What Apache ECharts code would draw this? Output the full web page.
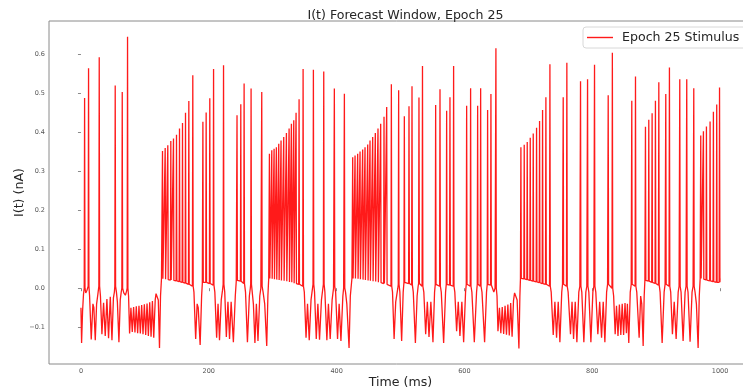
<!DOCTYPE html>
<html><head><meta charset="utf-8">
<script src="https://cdn.jsdelivr.net/npm/echarts@6/dist/echarts.min.js"></script>
<style>html,body{margin:0;padding:0;background:#fff}#c{width:743px;height:391px}</style>
</head><body><div id="c"></div>
<script>
// ---- data: spikes as [time ms, peak nA, foot nA] ----
const spikes1 = [[5.7,0.487,0.0],[11.9,0.563,0.005],[28.6,0.591,0.005],[53.6,0.519,0.005],[64.6,0.502,0.0],[72.9,0.644,0.0]];
const burst1 = [[127.6,0.351,0.024],[131.8,0.359,0.023],[135.9,0.366,0.022],[140.6,0.377,0.021],[144.8,0.383,0.02],[149.5,0.393,0.019],[154.2,0.409,0.017],[158.9,0.423,0.015],[163.6,0.449,0.013],[168.8,0.479,0.01],[175.0,0.545,0.005]];
const spikes2 = [[190.8,0.426,0.015],[195.9,0.45,0.015],[201.6,0.486,0.012],[207.5,0.561,0.008],[223.1,0.571,0.01],[244.2,0.443,0.02],[250.1,0.471,0.018],[255.3,0.524,0.012],[266.2,0.511,0.01],[282.9,0.502,0.005]];
const burst2 = [[294.9,0.344,0.025],[298.6,0.353,0.024],[302.2,0.357,0.023],[305.8,0.361,0.022],[309.5,0.37,0.021],[313.1,0.378,0.02],[317.3,0.387,0.019],[321.5,0.397,0.018],[325.7,0.409,0.016],[329.3,0.421,0.015],[333.0,0.43,0.013],[336.6,0.449,0.012],[341.3,0.484,0.01],[347.6,0.561,0.005]];
const spikes3 = [[363.7,0.559,0.01],[379.9,0.555,0.01],[396.5,0.511,0.005],[412.2,0.498,0.0]];
const burst3 = [[425.2,0.335,0.025],[428.9,0.34,0.025],[433.0,0.344,0.024],[436.7,0.35,0.023],[440.8,0.355,0.022],[444.5,0.361,0.021],[448.7,0.368,0.02],[452.3,0.378,0.019],[456.5,0.387,0.018],[460.6,0.397,0.017],[464.8,0.409,0.015],[469.0,0.421,0.014],[474.2,0.439,0.012],[478.4,0.464,0.01],[485.7,0.522,0.005]];
const spikes4 = [[497.1,0.507,0.01],[506.0,0.44,0.015],[513.3,0.466,0.012],[518.0,0.517,0.008],[528.9,0.488,0.012],[534.4,0.569,0.005],[555.0,0.469,0.01],[561.8,0.509,0.005],[572.2,0.454,0.01],[577.4,0.489,0.008],[583.1,0.569,0.005],[603.5,0.467,0.01],[609.7,0.512,0.005],[620.7,0.467,0.01],[625.4,0.512,0.005],[636.3,0.456,0.01],[641.5,0.497,0.008],[649.3,0.614,0.0]];
const burst4 = [[688.4,0.361,0.025],[693.6,0.367,0.024],[698.3,0.374,0.022],[703.0,0.385,0.02],[707.7,0.396,0.018],[712.9,0.411,0.016],[717.6,0.428,0.014],[722.3,0.456,0.012],[727.5,0.489,0.01],[733.8,0.573,0.005]];
const spikes5 = [[754.6,0.489,0.01],[760.3,0.577,0.005],[781.7,0.53,0.005],[792.7,0.535,0.005],[803.6,0.572,0.005],[825.0,0.494,0.01],[831.5,0.603,0.0],[861.9,0.48,0.01],[867.7,0.542,0.005]];
const burst5 = [[883.3,0.413,0.02],[888.5,0.431,0.018],[893.7,0.448,0.015],[898.9,0.48,0.012],[904.2,0.527,0.008]];
const spikes6 = [[915.1,0.497,0.01],[920.8,0.565,0.005],[937.0,0.535,0.005],[947.9,0.535,0.005],[958.9,0.512,0.005]];
const burst6 = [[969.8,0.391,0.025],[974.0,0.402,0.023],[978.7,0.414,0.021],[984.4,0.427,0.019],[989.6,0.452,0.017],[994.8,0.47,0.015],[999.2,0.514,0.015]];

// ---- sub-threshold trace between spikes: [time ms, current nA] ----
const restA = [[0,-0.05],[1.0,-0.14],[2.5,-0.06],[4.0,-0.015],[7.5,-0.012],[9.5,-0.005],
 [13.5,-0.02],[16.1,-0.131],[18.7,-0.04],[20.2,-0.05],[22.4,-0.133],[24.5,-0.04],[26.5,-0.015],
 [30.5,-0.02],[32.8,-0.118],[35.4,-0.037],[38.0,-0.122],[40.6,-0.028],[43.2,-0.128],[45.9,-0.022],[48.5,-0.133],[50.8,-0.025],[52.3,-0.01],
 [55.5,-0.01],[57.0,-0.035],[59.4,-0.138],[61.5,-0.03],[63.0,-0.01],
 [67,-0.012],[69.5,-0.018],[71.3,-0.008]];
const restB = [[74.5,-0.02],[76.1,-0.116],[78.2,-0.05],[80.3,-0.112],[82.4,-0.048],[84.5,-0.113],[86.6,-0.046],[88.7,-0.115],[90.8,-0.045],[92.9,-0.116],[95.0,-0.043],[97.1,-0.118],[99.2,-0.041],[101.3,-0.12],[103.4,-0.039],[105.5,-0.122],[107.6,-0.036],[109.7,-0.124],[111.8,-0.033],[113.9,-0.127],[116.2,-0.03],[117.5,-0.014],[119.5,-0.012],[121.0,-0.03],[122.9,-0.153],[124.5,-0.02],[126.0,0.024]];
const restC = [[176.8,-0.01],[179.5,-0.13],[181.8,-0.04],[183.5,-0.05],[186.5,-0.145],[188.8,-0.02],[189.9,0.012],
 [193.3,0.012],[198.7,0.01],[204.5,0.008],
 [209.5,-0.01],[212.3,-0.127],[214.5,-0.04],[216.8,-0.133],[219.5,-0.03],[221.5,-0.005],
 [225,-0.01],[227.5,-0.125],[230,-0.035],[232.5,-0.13],[235,-0.035],[238.5,-0.138],[241.5,-0.02],[243.0,0.018],
 [247.2,0.018],[252.7,0.015],
 [257.5,-0.01],[260.5,-0.138],[263.5,-0.02],[265.0,0.0],
 [268,-0.01],[269.8,-0.04],[272.2,-0.14],[274.5,-0.04],[277,-0.135],[279.8,-0.02],[281.5,0.0],
 [285,-0.01],[287.5,-0.04],[290.7,-0.148],[292.5,-0.02],[293.8,0.025]];
const restD = [[349.5,-0.01],[352.2,-0.127],[354.5,-0.04],[357.2,-0.133],[360,-0.03],[362.3,0.0],
 [365.5,-0.01],[368.2,-0.13],[370.7,-0.04],[373.3,-0.132],[376.3,-0.03],[378.5,0.0],
 [381.7,-0.01],[384.8,-0.133],[387.2,-0.04],[390,-0.13],[393,-0.03],[395.2,0.0],
 [398.5,-0.01],[401.5,-0.13],[404,-0.04],[406.8,-0.135],[409.8,-0.02],[411,0.0],
 [414,-0.01],[416,-0.04],[419.5,-0.153],[421.5,-0.02],[424,0.025]];
const restE = [[487.5,-0.01],[490,-0.13],[492.5,-0.035],[495.8,0.0],
 [499,-0.01],[501.8,-0.135],[504.2,-0.01],
 [509.6,0.012],[515.6,0.01],
 [520,-0.01],[523.3,-0.14],[526,-0.02],[527.6,0.005],[531.6,0.01],
 [536.5,-0.01],[539.4,-0.118],[542,-0.035],[544.6,-0.125],[547.5,-0.035],[550.8,-0.138],[553.3,-0.01],
 [558.4,0.01],[563.8,-0.01],[567.5,-0.14],[570.5,-0.01],[574.8,0.012],[580.2,0.01],
 [585,-0.01],[587.8,-0.11],[590.4,-0.035],[593,-0.122],[596,-0.035],[598.8,-0.138],[601.8,-0.01],
 [606.6,0.012],[611.7,-0.01],[615.5,-0.138],[619,-0.01],[623,0.012],
 [627.5,-0.01],[631.6,-0.138],[634.6,-0.01],[638.9,0.012],[644,0.0],[646,-0.01],[648,0.0]];
const restF = [[651,-0.02],[652.5,-0.11],[654.8,-0.05],[657,-0.115],[659.2,-0.048],[661.4,-0.117],[663.6,-0.045],[665.8,-0.119],[668,-0.042],[670.2,-0.121],[672.4,-0.038],[674.6,-0.124],[676.8,-0.032],[678.5,-0.012],[680.6,-0.008],[682.5,-0.03],[685.3,-0.154],[686.8,-0.02],[687.7,0.025]];
const restG = [[735.8,-0.01],[739,-0.12],[741.6,-0.035],[744.2,-0.127],[746.8,-0.035],[749.4,-0.138],[752.3,-0.01],[753.5,0.01],
 [757.4,0.012],[762.3,-0.01],[766,-0.118],[768.4,-0.035],[770.8,-0.13],[773.4,-0.035],[776,-0.138],[779,-0.01],[780.6,0.005],
 [783.7,-0.01],[786.9,-0.138],[790,-0.01],[791.5,0.005],
 [794.7,-0.01],[797.9,-0.138],[801,-0.01],[802.5,0.005],
 [805.6,-0.01],[808.8,-0.118],[811.7,-0.035],[814.6,-0.127],[817.2,-0.035],[819.8,-0.138],[822.5,-0.01],[824,0.01],
 [828.2,0.012]];
const restH = [[833.5,-0.02],[835.9,-0.118],[838,-0.045],[840.3,-0.122],[842.5,-0.042],[844.7,-0.12],[846.9,-0.04],[849.1,-0.12],[851.3,-0.038],[853.5,-0.115],[855,-0.04],[857.2,-0.14],[859.5,-0.01],[861,0.01],
 [864.8,0.012],[869.7,-0.01],[873.4,-0.127],[875.8,-0.02],[877.5,-0.04],[879.7,-0.148],[881.3,-0.02],[882.4,0.02],
 [906.2,-0.01],[909.4,-0.14],[912.5,-0.01],[914,0.01],[918,0.012],
 [922.8,-0.01],[925.5,-0.118],[928.3,-0.035],[931.3,-0.13],[934.5,-0.01],[935.9,0.005],
 [939,-0.01],[942.2,-0.135],[945.3,-0.01],[946.8,0.005],
 [949.9,-0.01],[953.1,-0.137],[956.2,-0.01],[957.8,0.005],
 [960.9,-0.01],[963,-0.04],[965.7,-0.153],[967.5,-0.02],[968.9,0.025],[1000,0.025]];

const xTicks = [0, 200, 400, 600, 800, 1000];
const yTicks = [-0.1, 0.0, 0.1, 0.2, 0.3, 0.4, 0.5, 0.6];

// ---- assemble the trace ----
const allSpikes = [].concat(spikes1, burst1, spikes2, burst2, spikes3, burst3, spikes4, burst4, spikes5, burst5, spikes6, burst6);
const allRest = [].concat(restA, restB, restC, restD, restE, restF, restG, restH);
const trace = allRest.slice();
allSpikes.forEach(([t, p, f]) => { trace.push([t - 0.6, f], [t, p], [t + 0.6, f]); });
trace.sort((a, b) => a[0] - b[0]);

const FONT = 'DejaVu Sans';
const chart = echarts.init(document.getElementById('c'), null, {renderer: 'canvas'});
chart.setOption({
  animation: false,
  backgroundColor: '#fff',
  title: {
    text: 'I(t) Forecast Window, Epoch 25', left: 400.5, top: 4, textAlign: 'center',
    textStyle: {fontFamily: FONT, fontSize: 12.6, fontWeight: 'normal', color: '#262626'}
  },
  legend: {
    data: ['Epoch 25 Stimulus'], left: 583, top: 27, icon: 'rect', itemWidth: 26, itemHeight: 1.4,
    itemGap: 0, padding: [4, 14, 4, 4], backgroundColor: '#fff', borderColor: '#d8d8d8', borderWidth: 1, borderRadius: 3,
    textStyle: {fontFamily: FONT, fontSize: 12.6, color: '#262626', padding: [0, 0, 0, 4]}
  },
  grid: {left: 49, top: 21, width: 703, height: 343, show: true, borderColor: '#8a8a8a', borderWidth: 1,
    outerBoundsMode: 'none', containLabel: false},
  xAxis: {
    type: 'value', min: -50, max: 1050,
    name: 'Time (ms)', nameLocation: 'middle', nameGap: 12, nameMoveOverlap: false,
    nameTextStyle: {fontFamily: FONT, fontSize: 12.6, color: '#262626'},
    axisLine: {show: false},
    splitLine: {show: false},
    axisTick: {show: true, length: 3, lineStyle: {color: '#8a8a8a'}, customValues: xTicks},
    axisLabel: {fontFamily: FONT, fontSize: 6.5, color: '#555', margin: 4, customValues: xTicks, formatter: v => String(Math.round(v))}
  },
  yAxis: {
    type: 'value', min: -0.194, max: 0.684,
    name: 'I(t) (nA)', nameLocation: 'middle', nameGap: 23, nameRotate: 90, nameMoveOverlap: false,
    nameTextStyle: {fontFamily: FONT, fontSize: 12.6, color: '#262626'},
    axisLine: {show: false},
    splitLine: {show: false},
    axisTick: {show: true, length: 3, lineStyle: {color: '#8a8a8a'}, customValues: yTicks},
    axisLabel: {fontFamily: FONT, fontSize: 6.5, color: '#555', margin: 4, customValues: yTicks,
      formatter: v => (v < -1e-9 ? '\u2212' : '') + Math.abs(v).toFixed(1)}
  },
  series: [{
    name: 'Epoch 25 Stimulus', type: 'line', data: trace, showSymbol: false, symbol: 'none',
    sampling: null, lineStyle: {color: '#ff1a1a', width: 1.3}, itemStyle: {color: '#ff1a1a'}
  }]
});
</script></body></html>
